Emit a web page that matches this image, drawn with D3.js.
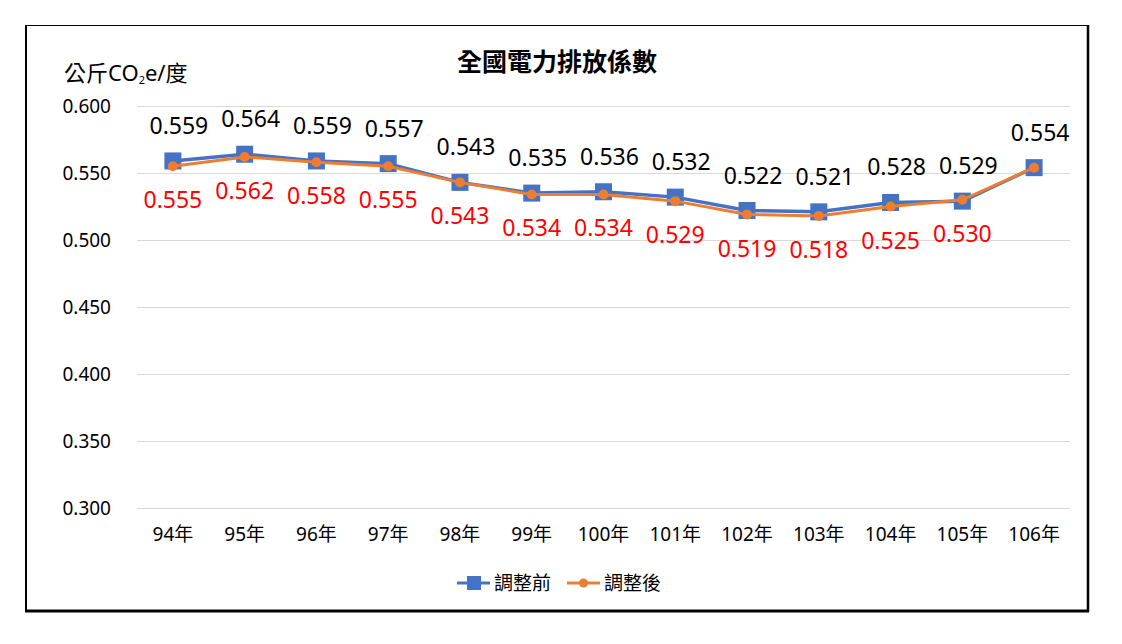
<!DOCTYPE html>
<html>
<head>
<meta charset="utf-8">
<script src="https://cdn.jsdelivr.net/npm/d3@7"></script>
<style>
  body { margin: 0; background: #fff; }
  svg { display: block; font-family: "Noto Sans", "Noto Sans CJK TC", sans-serif; }
</style>
</head>
<body>
<div class="chart"></div>
<script>
let years = ["94年", "95年", "96年", "97年", "98年", "99年", "100年", "101年", "102年", "103年", "104年", "105年", "106年"];
let beforeValues = [0.559, 0.564, 0.559, 0.557, 0.543, 0.535, 0.536, 0.532, 0.522, 0.521, 0.528, 0.529, 0.554];
let afterValues = [0.555, 0.562, 0.558, 0.555, 0.543, 0.534, 0.534, 0.529, 0.519, 0.518, 0.525, 0.530, 0.554];
let yTicks = [0.300, 0.350, 0.400, 0.450, 0.500, 0.550, 0.600];
let seriesNames = ["調整前", "調整後"];

let svg = d3.select(".chart").append("svg").attr("width", 1122).attr("height", 644);

// outer frame, heavier on right and bottom like the source
svg.append("rect").attr("x", 25.5).attr("y", 25.5).attr("width", 1062).attr("height", 585)
    .attr("fill", "none").attr("stroke", "#000").attr("stroke-width", 1);
svg.append("line").attr("x1", 26).attr("x2", 26).attr("y1", 25).attr("y2", 611).attr("stroke", "#000").attr("stroke-width", 2);
svg.append("line").attr("x1", 1088).attr("x2", 1088).attr("y1", 25).attr("y2", 612).attr("stroke", "#000").attr("stroke-width", 2.5);
svg.append("line").attr("x1", 25).attr("x2", 1089).attr("y1", 611).attr("y2", 611).attr("stroke", "#000").attr("stroke-width", 3);

let margin = {left: 137, right: 1070, top: 106, bottom: 508};

let x = d3.scaleBand().domain(years).range([margin.left, margin.right]);
let y = d3.scaleLinear().domain([0.3, 0.6]).range([margin.bottom, margin.top]);

// title
svg.append("text").attr("x", 557).attr("y", 71).attr("text-anchor", "middle")
    .style("font-size", "25px").style("font-weight", "bold").attr("fill", "#000")
    .text("全國電力排放係數");

// unit label
let unit = svg.append("text").attr("x", 64).attr("y", 81).style("font-size", "22px").attr("fill", "#000");
unit.append("tspan").text("公斤CO");
unit.append("tspan").style("font-size", "11px").attr("dy", 3).text("2");
unit.append("tspan").attr("dy", -3).text("e/度");

// gridlines + y axis
let yAxis = svg.append("g")
    .attr("transform", "translate(" + margin.left + ",0)")
    .call(d3.axisLeft(y).tickValues(yTicks).tickFormat(d3.format(".3f"))
        .tickSize(-(margin.right - margin.left)).tickPadding(26));
yAxis.attr("font-family", null);
yAxis.select(".domain").remove();
yAxis.selectAll(".tick line").attr("stroke", "#d9d9d9").attr("stroke-width", 1);
yAxis.selectAll(".tick text").style("font-size", "19px").attr("fill", "#000");

// x axis labels
let xAxis = svg.append("g")
    .attr("transform", "translate(0," + margin.bottom + ")")
    .call(d3.axisBottom(x).tickSize(0).tickPadding(20));
xAxis.attr("font-family", null);
xAxis.select(".domain").remove();
xAxis.selectAll(".tick text").style("font-size", "19px").attr("fill", "#000");

let line = d3.line()
    .x(function (d, i) { return x(years[i]) + x.bandwidth() / 2; })
    .y(function (d) { return y(d); });

// blue series
svg.append("path").attr("d", line(beforeValues)).attr("fill", "none")
    .attr("stroke", "#4472C4").attr("stroke-width", 3.5);
svg.selectAll(".mark-before").data(beforeValues).enter().append("rect")
    .attr("class", "mark-before")
    .attr("x", function (d, i) { return x(years[i]) + x.bandwidth() / 2 - 8.5; })
    .attr("y", function (d) { return y(d) - 8.5; })
    .attr("width", 17).attr("height", 17).attr("fill", "#4472C4");

// orange series
svg.append("path").attr("d", line(afterValues)).attr("fill", "none")
    .attr("stroke", "#ED7D31").attr("stroke-width", 3);
svg.selectAll(".mark-after").data(afterValues).enter().append("circle")
    .attr("class", "mark-after")
    .attr("cx", function (d, i) { return x(years[i]) + x.bandwidth() / 2; })
    .attr("cy", function (d) { return y(d); })
    .attr("r", 5).attr("fill", "#ED7D31");

// data labels
svg.selectAll(".label-before").data(beforeValues).enter().append("text")
    .attr("class", "label-before")
    .attr("x", function (d, i) { return x(years[i]) + x.bandwidth() / 2 + 6; })
    .attr("y", function (d) { return y(d) - 27; })
    .attr("text-anchor", "middle").style("font-size", "23px").attr("fill", "#000")
    .text(function (d) { return d3.format(".3f")(d); });

svg.selectAll(".label-after").data(afterValues.slice(0, afterValues.length - 1)).enter().append("text")
    .attr("class", "label-after")
    .attr("x", function (d, i) { return x(years[i]) + x.bandwidth() / 2; })
    .attr("y", function (d) { return y(d) + 42; })
    .attr("text-anchor", "middle").style("font-size", "23px").attr("fill", "#FF0000")
    .text(function (d) { return d3.format(".3f")(d); });

// legend
let legend = svg.append("g").attr("transform", "translate(457,583)");
legend.append("line").attr("x1", 0).attr("x2", 33).attr("stroke", "#4472C4").attr("stroke-width", 3);
legend.append("rect").attr("x", 10).attr("y", -7).attr("width", 14).attr("height", 14).attr("fill", "#4472C4");
legend.append("text").attr("x", 37).attr("y", 7).style("font-size", "19px").text(seriesNames[0]);
legend.append("line").attr("x1", 110).attr("x2", 143).attr("stroke", "#ED7D31").attr("stroke-width", 3);
legend.append("circle").attr("cx", 126.5).attr("cy", 0).attr("r", 4.5).attr("fill", "#ED7D31");
legend.append("text").attr("x", 147).attr("y", 7).style("font-size", "19px").text(seriesNames[1]);
</script>
</body>
</html>
